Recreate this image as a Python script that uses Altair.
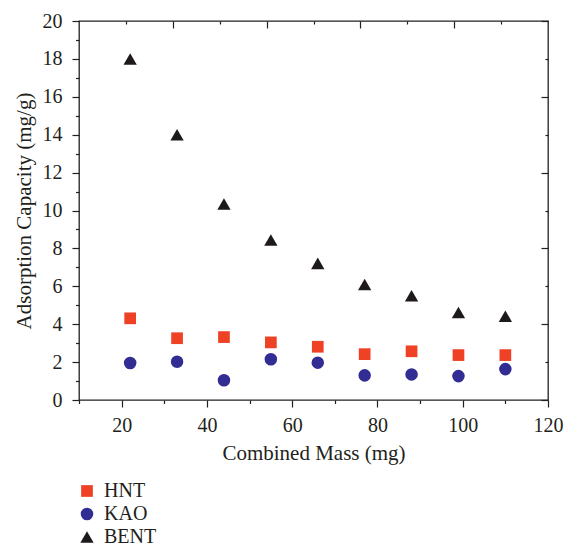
import altair as alt
import pandas as pd

mass = [22, 33, 44, 55, 66, 77, 88, 99, 110]
hnt = [4.31, 3.26, 3.32, 3.04, 2.81, 2.42, 2.57, 2.37, 2.37]
kao = [1.95, 2.02, 1.04, 2.15, 1.97, 1.30, 1.35, 1.26, 1.63]
bent = [18.0, 14.0, 10.34, 8.44, 7.21, 6.09, 5.50, 4.62, 4.42]

series = ["HNT", "KAO", "BENT"]
colors = ["#EE4126", "#312D92", "#1E1A1B"]
shapes = ["square", "circle", "triangle-up"]
sizes = [137, 177, 240]

x_major = [20, 40, 60, 80, 100, 120]
x_minor = [10, 30, 50, 70, 90, 110]
y_major = [0, 2, 4, 6, 8, 10, 12, 14, 16, 18, 20]
y_minor = [1, 3, 5, 7, 9, 11, 13, 15, 17, 19]
top_long = [32, 54, 76, 98]
top_short = [21, 43, 65, 87, 109]
right_long = [0, 4, 8, 12, 16, 20]
right_short = [2, 6, 10, 14, 18]

rows = []
for name, vals in zip(series, [hnt, kao, bent]):
    for m, v in zip(mass, vals):
        rows.append({"mass": m, "cap": v, "series": name})
df = pd.DataFrame(rows)

FONT = "Liberation Serif"
INK = "#231F20"

xs = alt.Scale(domain=[10, 120], nice=False, zero=False)
ys = alt.Scale(domain=[0, 20], nice=False, zero=False)

main = alt.Chart(df).mark_point(filled=True, opacity=1).encode(
    x=alt.X("mass:Q", scale=xs,
            axis=alt.Axis(orient="bottom", values=x_major, tickSize=7, tickWidth=1.2,
                          tickColor=INK, domain=False, grid=False,
                          labelFont=FONT, labelFontSize=20, labelColor=INK,
                          labelPadding=8, labelFlush=False,
                          title="Combined Mass (mg)", titleFont=FONT,
                          titleFontSize=21, titleFontWeight="normal",
                          titleColor=INK, titlePadding=7)),
    y=alt.Y("cap:Q", scale=ys,
            axis=alt.Axis(orient="left", values=y_major, tickSize=7, tickWidth=1.2,
                          tickColor=INK, domain=False, grid=False,
                          labelFont=FONT, labelFontSize=20, labelColor=INK,
                          labelPadding=10, labelFlush=False,
                          title="Adsorption Capacity (mg/g)", titleFont=FONT,
                          titleFontSize=21, titleFontWeight="normal",
                          titleColor=INK, titlePadding=8)),
    color=alt.Color("series:N", scale=alt.Scale(domain=series, range=colors),
                    legend=alt.Legend(orient="none", legendX=-2, legendY=460,
                                      title=None, labelFont=FONT, labelFontSize=20,
                                      labelColor=INK, rowPadding=3,
                                      labelOffset=7, symbolStrokeWidth=0)),
    shape=alt.Shape("series:N", scale=alt.Scale(domain=series, range=shapes)),
    size=alt.Size("series:N", scale=alt.Scale(domain=series, range=sizes)),
)


def tick_layer(xo, xv, xsz, xoff, yo, yv, ysz, yoff):
    return alt.Chart(df).mark_point(opacity=0).encode(
        x=alt.X("mass:Q", scale=xs,
                axis=alt.Axis(orient=xo, values=xv, tickSize=xsz, offset=xoff,
                              labels=False, domain=False, grid=False,
                              tickColor=INK, tickWidth=1.2, title=None)),
        y=alt.Y("cap:Q", scale=ys,
                axis=alt.Axis(orient=yo, values=yv, tickSize=ysz, offset=yoff,
                              labels=False, domain=False, grid=False,
                              tickColor=INK, tickWidth=1.2, title=None)),
    )


minor = tick_layer("bottom", x_minor, 3.5, 0, "left", y_minor, 3.5, 0)
long_in = tick_layer("top", top_long, 7, -7, "right", right_long, 7, -7)
short_in = tick_layer("top", top_short, 3, -3, "right", right_short, 3, -3)

chart = alt.layer(main, minor, long_in, short_in).resolve_axis(
    x="independent", y="independent"
).properties(
    width=469, height=379,
    padding={"left": 79, "top": 21, "right": 18, "bottom": 148},
    autosize=alt.AutoSizeParams(type="none"),
    background="white",
).configure_view(stroke=INK, strokeWidth=1.3)

chart.save("out.html", embed_options={"renderer": "svg", "actions": False})
